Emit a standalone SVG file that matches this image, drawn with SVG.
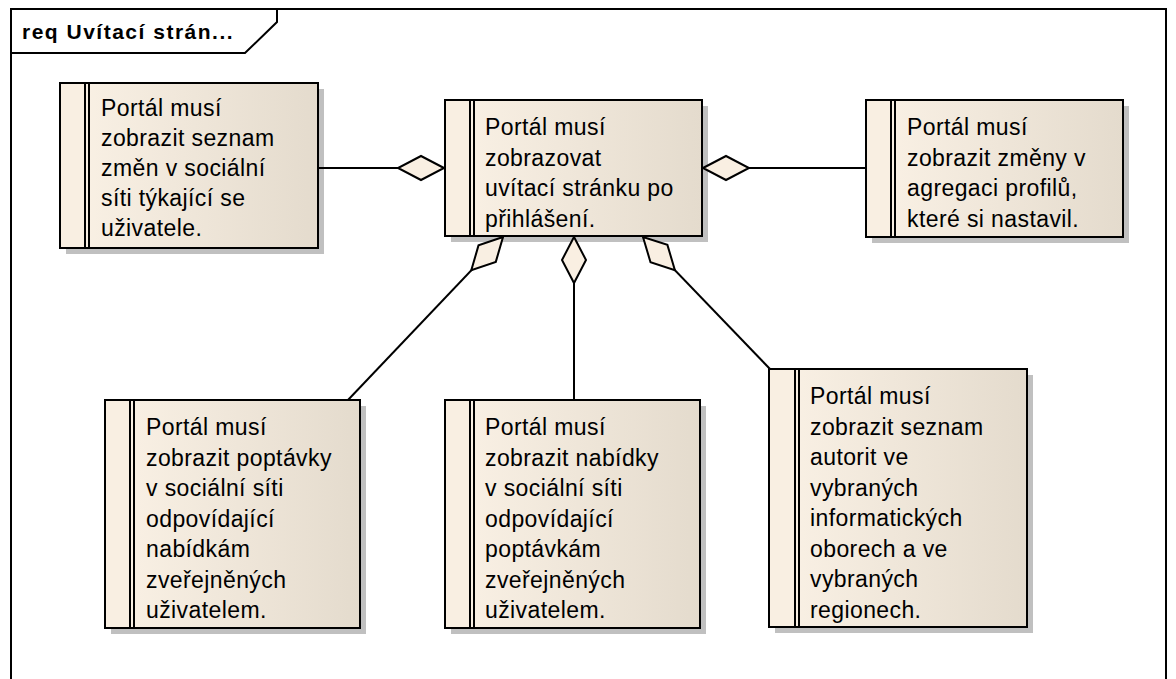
<svg xmlns="http://www.w3.org/2000/svg" width="1176" height="679" viewBox="0 0 1176 679">
  <style>
    .frame { fill: none; stroke: #000; stroke-width: 2; }
    .title { font-family: "Liberation Sans", Arial, sans-serif; font-size: 21px; font-weight: bold; letter-spacing: 1.5px; fill: #000; }
    .shadow { fill: #c0c0c0; }
    .body { fill: url(#reqFill); stroke: #000; stroke-width: 2; }
    .strip { fill: #f9efe2; }
    .bar { stroke: #000; stroke-width: 2; }
    .txt { font-family: "Liberation Sans", Arial, sans-serif; font-size: 23px; letter-spacing: 0.4px; fill: #000; }
    .conn { stroke: #000; stroke-width: 2; fill: none; }
    .agg { fill: #f9efe2; stroke: #000; stroke-width: 2; stroke-linejoin: miter; }
  </style>
  <defs>
    <linearGradient id="reqFill" x1="0" y1="0" x2="1" y2="0">
      <stop offset="0" stop-color="#fbf2e6"/>
      <stop offset="1" stop-color="#e4dbcd"/>
    </linearGradient>
  </defs>

  <rect width="1176" height="679" fill="#fff"/>

  <!-- diagram frame with name tab -->
  <g id="frame">
    <path class="frame" d="M11,690 V9 H1166 V690"/>
    <path class="frame" d="M11,53 H245 L277,22 V9"/>
    <text class="title" x="22" y="39">req Uvítací strán...</text>
  </g>

  <!-- requirement: news feed of the social network -->
  <g id="req-news">
    <rect class="shadow" x="66" y="89" width="258" height="165"/>
    <rect class="body" x="60" y="83" width="258" height="165"/>
    <rect class="strip" x="61" y="84" width="23" height="163"/>
    <line class="bar" x1="85" y1="83" x2="85" y2="248"/>
    <line class="bar" x1="89" y1="83" x2="89" y2="248"/>
    <text class="txt">
      <tspan x="101" y="116">Portál musí</tspan>
      <tspan x="101" y="146">zobrazit seznam</tspan>
      <tspan x="101" y="176">změn v sociální</tspan>
      <tspan x="101" y="206">síti týkající se</tspan>
      <tspan x="101" y="236">uživatele.</tspan>
    </text>
  </g>

  <!-- requirement: welcome page (central) -->
  <g id="req-welcome">
    <rect class="shadow" x="451" y="106" width="257" height="136"/>
    <rect class="body" x="445" y="100" width="257" height="136"/>
    <rect class="strip" x="446" y="101" width="23" height="134"/>
    <line class="bar" x1="470" y1="100" x2="470" y2="236"/>
    <line class="bar" x1="474" y1="100" x2="474" y2="236"/>
    <text class="txt">
      <tspan x="485" y="135">Portál musí</tspan>
      <tspan x="485" y="165.5">zobrazovat</tspan>
      <tspan x="485" y="196">uvítací stránku po</tspan>
      <tspan x="485" y="226.5">přihlášení.</tspan>
    </text>
  </g>

  <!-- requirement: profile aggregation changes -->
  <g id="req-aggregation">
    <rect class="shadow" x="872" y="106" width="257" height="137"/>
    <rect class="body" x="866" y="100" width="257" height="137"/>
    <rect class="strip" x="867" y="101" width="23" height="135"/>
    <line class="bar" x1="891" y1="100" x2="891" y2="237"/>
    <line class="bar" x1="895" y1="100" x2="895" y2="237"/>
    <text class="txt">
      <tspan x="907" y="135">Portál musí</tspan>
      <tspan x="907" y="165.5">zobrazit změny v</tspan>
      <tspan x="907" y="196">agregaci profilů,</tspan>
      <tspan x="907" y="226.5">které si nastavil.</tspan>
    </text>
  </g>

  <!-- requirement: demands matching user offers -->
  <g id="req-demands">
    <rect class="shadow" x="111" y="406" width="255" height="228"/>
    <rect class="body" x="105" y="400" width="255" height="228"/>
    <rect class="strip" x="106" y="401" width="23" height="226"/>
    <line class="bar" x1="130" y1="400" x2="130" y2="628"/>
    <line class="bar" x1="134" y1="400" x2="134" y2="628"/>
    <text class="txt">
      <tspan x="146" y="435">Portál musí</tspan>
      <tspan x="146" y="465.5">zobrazit poptávky</tspan>
      <tspan x="146" y="496">v sociální síti</tspan>
      <tspan x="146" y="526.5">odpovídající</tspan>
      <tspan x="146" y="557">nabídkám</tspan>
      <tspan x="146" y="587.5">zveřejněných</tspan>
      <tspan x="146" y="618">uživatelem.</tspan>
    </text>
  </g>

  <!-- requirement: offers matching user demands -->
  <g id="req-offers">
    <rect class="shadow" x="451" y="406" width="255" height="228"/>
    <rect class="body" x="445" y="400" width="255" height="228"/>
    <rect class="strip" x="446" y="401" width="23" height="226"/>
    <line class="bar" x1="470" y1="400" x2="470" y2="628"/>
    <line class="bar" x1="474" y1="400" x2="474" y2="628"/>
    <text class="txt">
      <tspan x="485" y="435">Portál musí</tspan>
      <tspan x="485" y="465.5">zobrazit nabídky</tspan>
      <tspan x="485" y="496">v sociální síti</tspan>
      <tspan x="485" y="526.5">odpovídající</tspan>
      <tspan x="485" y="557">poptávkám</tspan>
      <tspan x="485" y="587.5">zveřejněných</tspan>
      <tspan x="485" y="618">uživatelem.</tspan>
    </text>
  </g>

  <!-- requirement: authorities in selected fields and regions -->
  <g id="req-authorities">
    <rect class="shadow" x="775" y="375" width="258" height="258"/>
    <rect class="body" x="769" y="369" width="258" height="258"/>
    <rect class="strip" x="770" y="370" width="24" height="256"/>
    <line class="bar" x1="795" y1="369" x2="795" y2="627"/>
    <line class="bar" x1="799" y1="369" x2="799" y2="627"/>
    <text class="txt">
      <tspan x="810" y="404">Portál musí</tspan>
      <tspan x="810" y="434.5">zobrazit seznam</tspan>
      <tspan x="810" y="465">autorit ve</tspan>
      <tspan x="810" y="495.5">vybraných</tspan>
      <tspan x="810" y="526">informatických</tspan>
      <tspan x="810" y="556.5">oborech a ve</tspan>
      <tspan x="810" y="587">vybraných</tspan>
      <tspan x="810" y="617.5">regionech.</tspan>
    </text>
  </g>

  <!-- connectors: aggregation lines, diamond at the whole (central requirement) -->
  <g id="connectors">
    <line class="conn" x1="318" y1="168" x2="444" y2="168"/>
    <polygon class="agg" points="444,168 421,156 398,168 421,180"/>

    <line class="conn" x1="866" y1="168" x2="703" y2="168"/>
    <polygon class="agg" points="703,168 726,156 749,168 726,180"/>

    <line class="conn" x1="348" y1="400" x2="503" y2="237"/>
    <polygon class="agg" points="503,237 478.5,245.4 471.3,270.3 495.8,261.9"/>

    <line class="conn" x1="574" y1="400" x2="574" y2="237"/>
    <polygon class="agg" points="574,237 562,260 574,283 586,260"/>

    <line class="conn" x1="770" y1="369" x2="643" y2="237"/>
    <polygon class="agg" points="643,237 650.5,262.2 674.9,270.1 667.4,244.9"/>
  </g>
</svg>
